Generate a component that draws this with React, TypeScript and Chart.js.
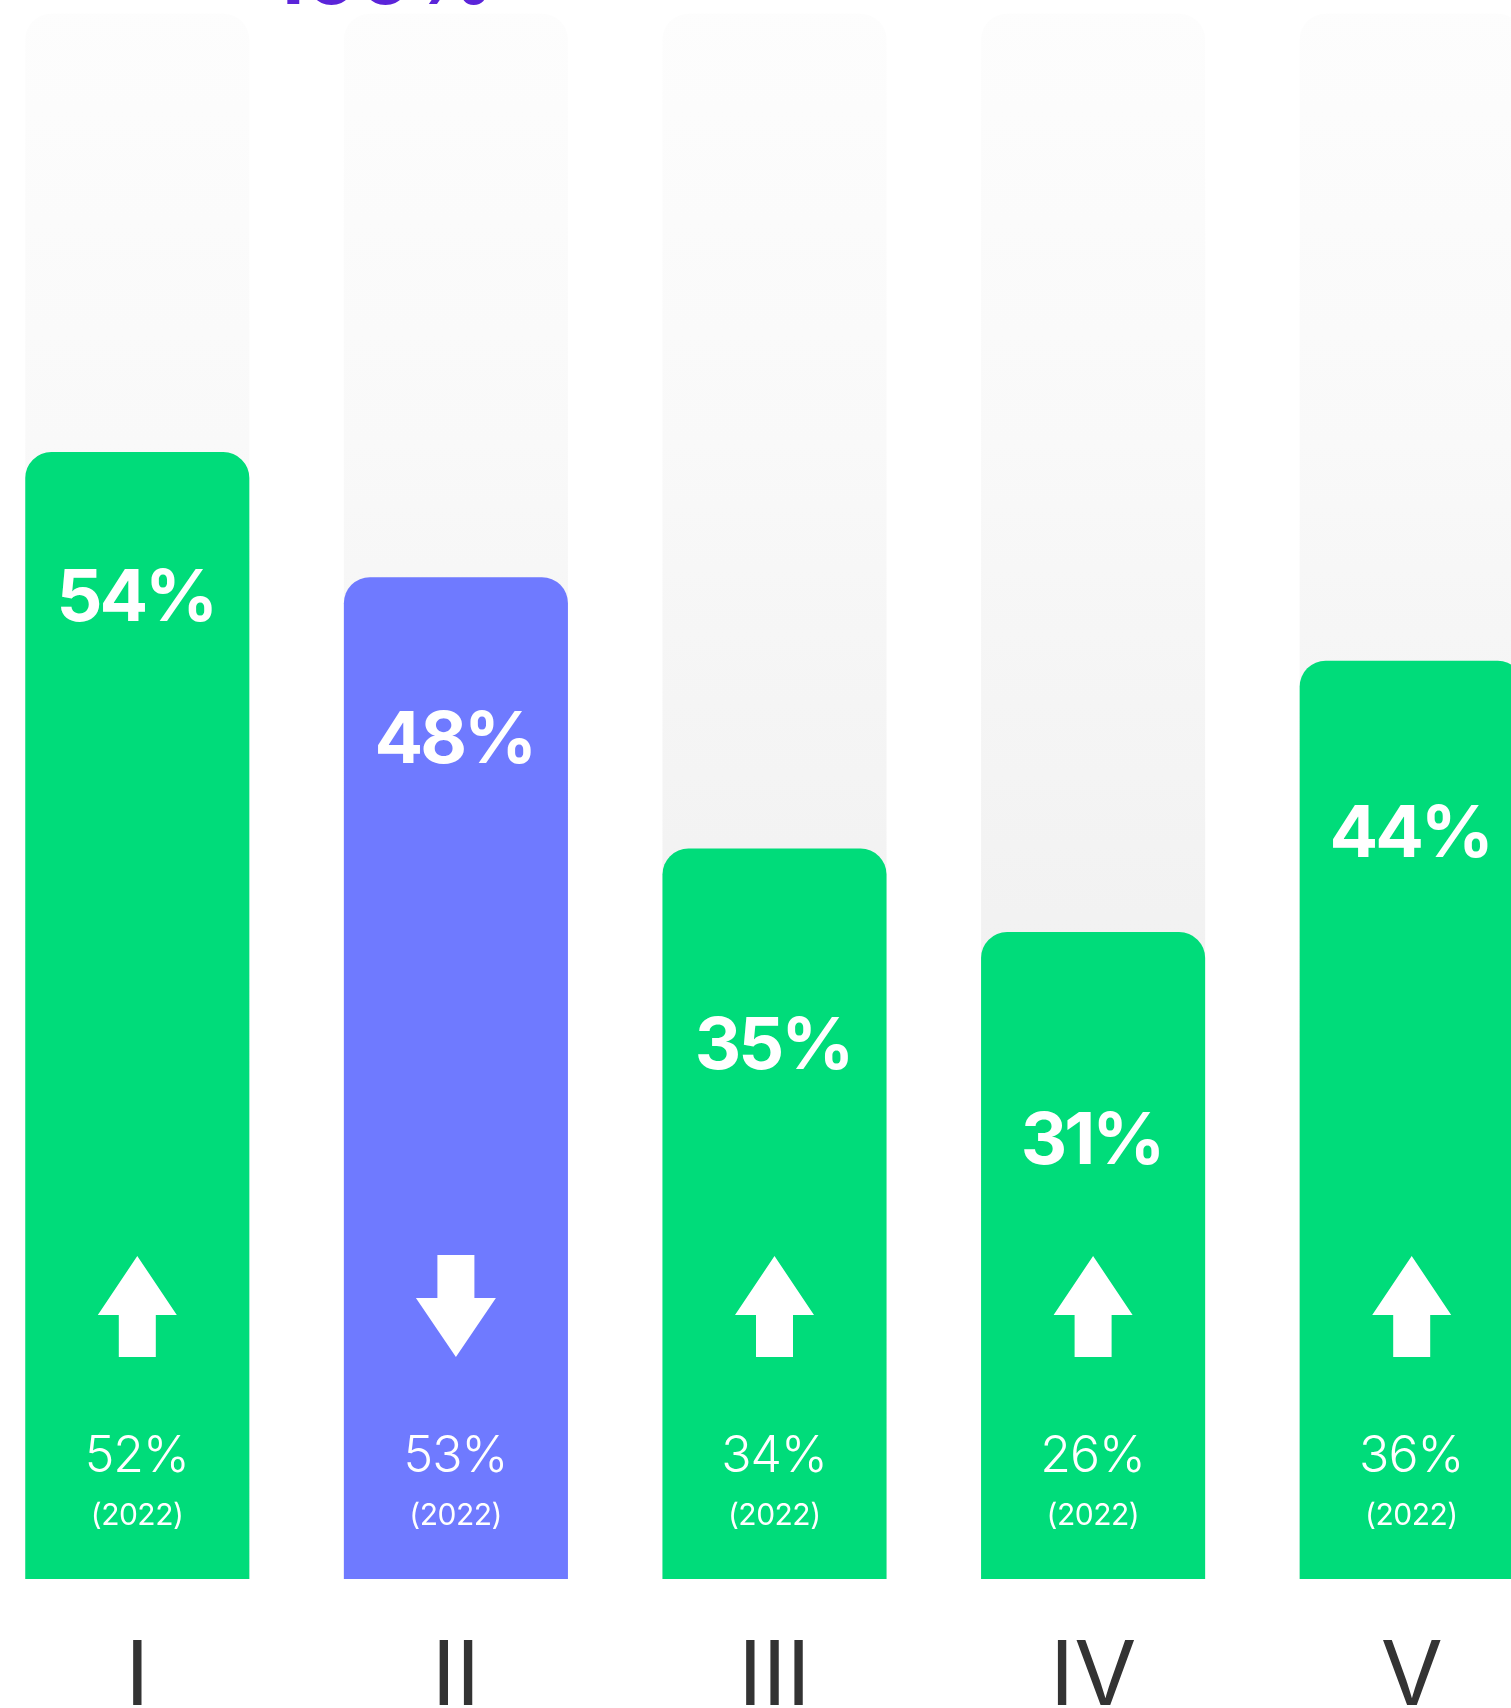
import React, { useEffect, useRef } from "react";
import { Chart, registerables } from "chart.js";

Chart.register(...registerables);

// ---- data ----
const categories = ["I", "II", "III", "IV", "V"];
const values2023 = [54, 48, 35, 31, 44];
const values2022 = [52, 53, 34, 26, 36];
const trackValues = [75, 75, 75, 75, 75];
const previousYear = "2022";
const titleText = "100%";

// ---- style ----
const GREEN = "#00DC7A";
const PURPLE = "#6F7AFF";
const TITLE_COLOR = "#5B24D9";
const FONT = "Inter, 'Noto Sans', sans-serif";

const CANVAS_W = 1593;
const CANVAS_H = 1708;
const OFFSET_X = -22;

const drawSpaced = (ctx: any, text: string, cx: number, cy: number, spacing: number) => {
  const chars = text.split("");
  const widths = chars.map((ch) => ctx.measureText(ch).width);
  const total = widths.reduce((a, b) => a + b, 0) + spacing * (chars.length - 1);
  let xPos = cx - total / 2;
  const prevAlign = ctx.textAlign;
  ctx.textAlign = "left";
  chars.forEach((ch, k) => {
    ctx.fillText(ch, xPos, cy);
    xPos += widths[k] + spacing;
  });
  ctx.textAlign = prevAlign;
};

const overlayPlugin = {
  id: "overlay",
  afterDatasetsDraw(chart: any) {
    const { ctx } = chart;
    const x = chart.scales.x;
    const y = chart.scales.y;
    const bottom = y.getPixelForValue(0);
    ctx.save();
    ctx.fillStyle = "#ffffff";
    ctx.textAlign = "center";
    ctx.textBaseline = "middle";
    categories.forEach((_, i) => {
      const cx = x.getPixelForValue(i);
      const cur = values2023[i];
      const prev = values2022[i];
      // main value label
      ctx.font = `700 72px ${FONT}`;
      drawSpaced(ctx, `${cur}%`, cx, y.getPixelForValue(cur * 1.13 - 13.8) + 6, -3);
      // arrow
      ctx.beginPath();
      if (cur >= prev) {
        const tip = bottom - 323;
        const base = bottom - 264;
        const end = bottom - 222;
        ctx.moveTo(cx, tip);
        ctx.lineTo(cx + 39.5, base);
        ctx.lineTo(cx + 18.5, base);
        ctx.lineTo(cx + 18.5, end);
        ctx.lineTo(cx - 18.5, end);
        ctx.lineTo(cx - 18.5, base);
        ctx.lineTo(cx - 39.5, base);
      } else {
        const start = bottom - 324;
        const base = bottom - 281;
        const tip = bottom - 222;
        ctx.moveTo(cx - 18.5, start);
        ctx.lineTo(cx + 18.5, start);
        ctx.lineTo(cx + 18.5, base);
        ctx.lineTo(cx + 40, base);
        ctx.lineTo(cx, tip);
        ctx.lineTo(cx - 40, base);
        ctx.lineTo(cx - 18.5, base);
      }
      ctx.closePath();
      ctx.fill();
      // previous year value
      ctx.font = `300 50px ${FONT}`;
      drawSpaced(ctx, `${prev}%`, cx, bottom - 122.5, -1);
      ctx.font = `400 30px ${FONT}`;
      drawSpaced(ctx, `(${previousYear})`, cx, bottom - 63, -0.5);
    });
    // title (cut off at top)
    ctx.fillStyle = TITLE_COLOR;
    ctx.textAlign = "left";
    ctx.textBaseline = "alphabetic";
    ctx.font = `700 80px ${FONT}`;
    ctx.fillText(titleText, 270 - OFFSET_X, 4);
    ctx.restore();
  },
};

export default function App() {
  const canvasRef = useRef<HTMLCanvasElement | null>(null);

  useEffect(() => {
    const canvas = canvasRef.current;
    if (!canvas) return;
    const trackColor = (c: any) => {
      const area = c.chart.chartArea;
      if (!area) return "#f5f5f5";
      const g = c.chart.ctx.createLinearGradient(0, area.top, 0, area.bottom);
      g.addColorStop(0, "#fdfdfd");
      g.addColorStop(0.28, "#f9f9f9");
      g.addColorStop(0.4, "#f6f6f6");
      g.addColorStop(0.58, "#f2f2f2");
      g.addColorStop(1, "#eeeeee");
      return g;
    };
    const chart = new Chart(canvas, {
      type: "bar",
      data: {
        labels: categories,
        datasets: [
          {
            data: values2023,
            backgroundColor: values2023.map((v, i) => (v >= values2022[i] ? GREEN : PURPLE)),
            borderRadius: { topLeft: 26, topRight: 26, bottomLeft: 0, bottomRight: 0 },
            borderSkipped: false,
            barPercentage: 0.7033,
            categoryPercentage: 1,
            grouped: false,
            order: 1,
          } as any,
          {
            data: trackValues,
            backgroundColor: trackColor,
            borderRadius: { topLeft: 26, topRight: 26, bottomLeft: 0, bottomRight: 0 },
            borderSkipped: false,
            barPercentage: 0.7033,
            categoryPercentage: 1,
            grouped: false,
            order: 2,
          } as any,
        ],
      },
      options: {
        responsive: false,
        animation: false,
        devicePixelRatio: 1,
        layout: { padding: 0 },
        plugins: { legend: { display: false }, tooltip: { enabled: false } },
        scales: {
          x: {
            type: "category",
            offset: true,
            grid: { display: false, drawTicks: false },
            border: { display: false },
            ticks: {
              color: "#333333",
              font: { family: FONT, size: 90, weight: "400" as any },
              padding: 45,
              maxRotation: 0,
              autoSkip: false,
            },
            afterFit: (scale: any) => {
              scale.height = 129;
            },
          },
          y: {
            display: false,
            min: 0,
            max: 1579 / 20.87,
          },
        },
      },
      plugins: [overlayPlugin],
    });
    return () => chart.destroy();
  }, []);

  return (
    <div
      style={{
        position: "fixed",
        left: 0,
        top: 0,
        width: 1511,
        height: 1708,
        overflow: "hidden",
        background: "#ffffff",
      }}
    >
      <canvas
        ref={canvasRef}
        width={CANVAS_W}
        height={CANVAS_H}
        style={{ position: "absolute", left: OFFSET_X, top: 0, width: CANVAS_W, height: CANVAS_H }}
      />
    </div>
  );
}
